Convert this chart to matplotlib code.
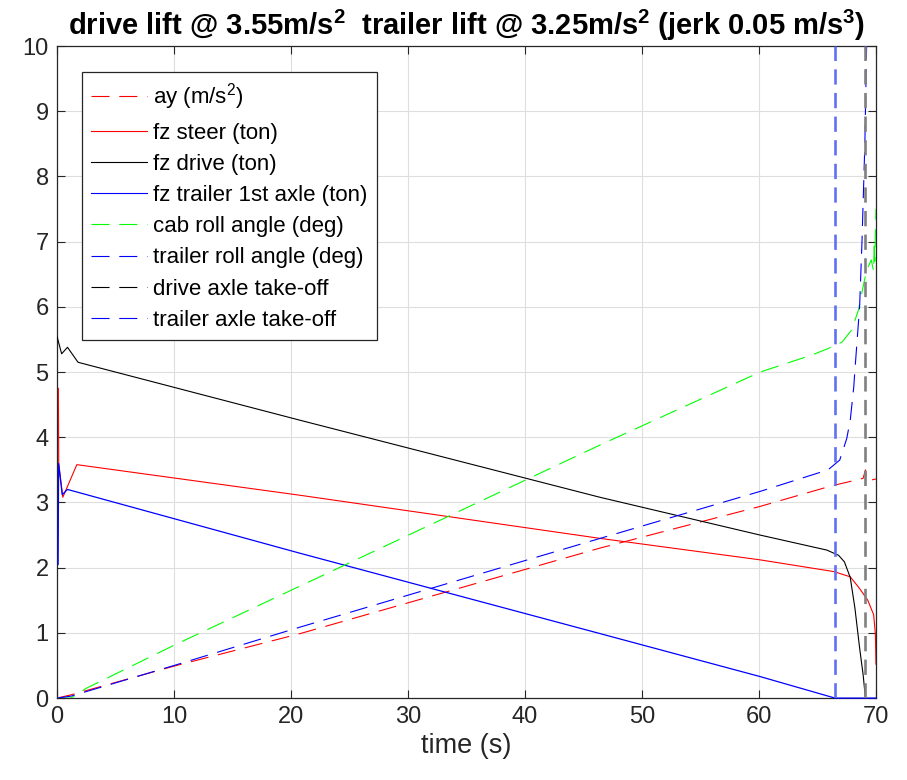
import numpy as np
import matplotlib
matplotlib.use('Agg')
import matplotlib.pyplot as plt
from matplotlib.lines import Line2D

plt.rcParams['font.family'] = ['Liberation Sans', 'DejaVu Sans']
plt.rcParams['mathtext.fontset'] = 'custom'
plt.rcParams['mathtext.rm'] = 'Liberation Sans'
plt.rcParams['mathtext.bf'] = 'Liberation Sans:bold'
plt.rcParams['mathtext.default'] = 'regular'
plt.rcParams['lines.scale_dashes'] = False

# values
t_ay = [0, 1.2, 10, 20.8, 46.4, 60.1, 66.1, 68.9, 69.1, 69.2, 70]
ay = [0, 0.05, 0.49, 0.99, 2.30, 2.94, 3.25, 3.37, 3.50, 3.33, 3.36]

t_steer = [0.12, 0.15, 0.5, 1.7, 20.8, 46.4, 60.1, 66.4, 67.8, 68.6, 69.3, 69.8, 69.95, 70]
fz_steer = [4.75, 3.6, 3.08, 3.58, 3.11, 2.45, 2.12, 1.94, 1.86, 1.68, 1.5, 1.28, 0.98, 0.52]

t_drive = [0, 0.4, 0.9, 1.8, 20.8, 46.4, 60.1, 65.8, 66.8, 67.3, 67.8, 68.2, 68.6, 68.9, 69.1]
fz_drive = [5.55, 5.28, 5.38, 5.15, 4.26, 3.08, 2.5, 2.27, 2.19, 2.09, 1.85, 1.38, 0.77, 0.36, 0]

t_trl = [0.1, 0.14, 0.45, 0.9, 20.8, 46.4, 60.1, 66.5, 70]
fz_trailer = [2.05, 3.6, 3.12, 3.2, 2.22, 0.99, 0.33, 0, 0]

t_cab = [0, 1.2, 2.5, 10, 20.8, 40, 46.4, 60.1, 64.5, 65.9, 67.1, 67.9, 68.5, 68.9, 69.2,
         69.6, 69.8, 69.85, 69.9, 70]
cab_roll = [0, 0, 0.15, 0.81, 1.72, 3.34, 3.88, 5.0, 5.26, 5.36, 5.46, 5.64, 5.95, 6.31, 6.56,
            6.72, 6.54, 7.0, 6.7, 7.5]

t_troll = [0, 1.2, 10, 20.8, 45.3, 60.1, 65.9, 66.9, 67.5, 67.8, 68.1, 68.2, 68.6, 68.8, 69.05, 69.25]
trailer_roll = [0, 0.03, 0.5, 1.09, 2.39, 3.17, 3.5, 3.65, 3.98, 4.26, 4.77, 5.03, 6.0, 6.98, 8.5, 10.5]

drive_takeoff = 69.1
trailer_takeoff = 66.5

fig = plt.figure(figsize=(9.07, 7.8), dpi=100)
ax = fig.add_axes([0.0628, 0.105, 0.903, 0.836])

dash = (0, (13, 7))
ax.plot(t_ay, ay, color='#ff0000', lw=0.8, linestyle=dash, zorder=3)
ax.plot(t_steer, fz_steer, color='#ff0000', lw=0.8, zorder=3)
ax.plot(t_drive, fz_drive, color='#000000', lw=0.8, zorder=3)
ax.plot(t_trl, fz_trailer, color='#0000ff', lw=0.9, zorder=3, clip_on=False)
ax.plot(t_cab, cab_roll, color='#00ff00', lw=0.8, linestyle=dash, zorder=3)
ax.plot(t_troll, trailer_roll, color='#0000ff', lw=0.8, linestyle=dash, zorder=3)
ax.axvline(drive_takeoff, color='#808080', lw=1.9, linestyle=(0, (11, 6)), zorder=3)
ax.axvline(trailer_takeoff, color='#6070f5', lw=1.9, linestyle=(0, (11, 6)), zorder=3)

handles = [Line2D([0], [0], color='#ff0000', lw=0.8, linestyle=dash),
           Line2D([0], [0], color='#ff0000', lw=0.8),
           Line2D([0], [0], color='#000000', lw=0.8),
           Line2D([0], [0], color='#0000ff', lw=0.8),
           Line2D([0], [0], color='#00ff00', lw=0.8, linestyle=dash),
           Line2D([0], [0], color='#0000ff', lw=0.8, linestyle=dash),
           Line2D([0], [0], color='#000000', lw=0.8, linestyle=dash),
           Line2D([0], [0], color='#0000ff', lw=0.8, linestyle=dash)]
labels = ['ay (m/s$^2$)', 'fz steer (ton)', 'fz drive (ton)', 'fz trailer 1st axle (ton)',
          'cab roll angle (deg)', 'trailer roll angle (deg)', 'drive axle take-off',
          'trailer axle take-off']
leg = ax.legend(handles, labels, loc='upper left', bbox_to_anchor=(0.0305, 0.96), fontsize=16,
                fancybox=False, framealpha=1, edgecolor='#262626', handlelength=2.5,
                handletextpad=0.27, labelspacing=0.46, borderpad=0.42, borderaxespad=0)
leg.get_frame().set_linewidth(0.9)
leg.set_zorder(5)

ax.set_xlim(0, 70)
ax.set_ylim(0, 10)
ax.set_xticks(np.arange(0, 71, 10))
ax.set_yticks(np.arange(0, 11, 1))
ax.grid(True, color='#dedede', lw=0.8)
ax.set_axisbelow(True)
ax.xaxis.set_ticks_position('both')
ax.yaxis.set_ticks_position('both')
ax.tick_params(direction='in', length=6, width=0.8, labelsize=17, colors='#262626', pad=6)
for s in ax.spines.values():
    s.set_linewidth(0.9)
    s.set_color('#262626')

ax.set_xlabel('time (s)', fontsize=19.5, color='#262626', labelpad=3)
ax.set_title(r'drive lift @ 3.55m/s$^2$  trailer lift @ 3.25m/s$^2$ (jerk 0.05 m/s$^3$)',
             fontsize=21, fontweight='bold', pad=8)

plt.savefig('out.png', dpi=100)
